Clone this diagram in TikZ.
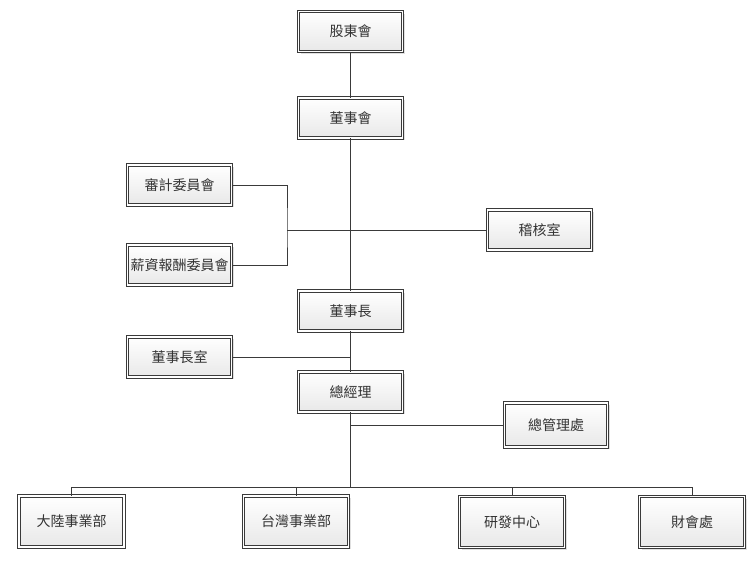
\documentclass[tikz,border=0pt]{standalone}
\usepackage{fontspec}
\newfontfamily\cjkfont{Noto Sans CJK TC}
\usetikzlibrary{shadows,calc}
\definecolor{linec}{HTML}{3A3A3A}
\definecolor{textc}{HTML}{333333}
\tikzset{
  orgbox/.style={draw=linec, line width=0.85pt, double=white, double distance=1.5pt,
    top color=white, bottom color=black!9,
    drop shadow={shadow xshift=2.2pt, shadow yshift=-2.2pt, fill=black, opacity=0.12},
    minimum width=104pt, minimum height=40pt, inner sep=0pt,
    font=\cjkfont\fontsize{14}{16}\selectfont, text=textc},
  bigbox/.style={orgbox, minimum height=51pt, minimum width=105pt},
  conn/.style={draw=linec, line width=1pt}
}
\begin{document}
\begin{tikzpicture}[x=1pt,y=-1pt]
\useasboundingbox (0,0) rectangle (755,571);
\node[orgbox] (gd)  at (350.5,31.5) {股東會};
\node[orgbox] (ds)  at (350.5,118) {董事會};
\node[orgbox] (audit) at (179.5,185) {審計委員會};
\node[orgbox] (pay) at (179.5,265) {薪資報酬委員會};
\node[orgbox] (ia)  at (539.5,230) {稽核室};
\node[orgbox] (ch)  at (350.5,311) {董事長};
\node[orgbox] (cho) at (179.5,357) {董事長室};
\node[orgbox] (gm)  at (350.5,392) {總經理};
\node[orgbox, minimum height=44pt, minimum width=103pt] (gmo) at (556,425) {總管理處};
\node[bigbox] (b1) at (71.5,521.5) {大陸事業部};
\node[bigbox] (b2) at (296,521.5) {台灣事業部};
\node[bigbox] (b3) at (512,522) {研發中心};
\node[bigbox] (b4) at (692,522) {財會處};
\coordinate (cm) at (287,230);
\coordinate (bus) at (350.5,487);
\draw[conn] (gd) -- (ds);
\draw[conn] (ds) -- (ch);
\draw[conn] (ch) -- (gm);
\draw[conn] (audit.east) -| (cm) |- (pay.east);
\draw[conn] (cm) -- (ia.west);
\draw[conn] (cho.east) -- (cho.east -| ch.south);
\draw[conn] (gm.south) -- (bus);
\draw[conn] (gm.south |- gmo.west) -- (gmo.west);
\draw[conn] (b1.north) -- (b1.north |- bus) -- (b4.north |- bus) -- (b4.north);
\draw[conn] (b2.north) -- (b2.north |- bus);
\draw[conn] (b3.north) -- (b3.north |- bus);
\end{tikzpicture}
\end{document}
